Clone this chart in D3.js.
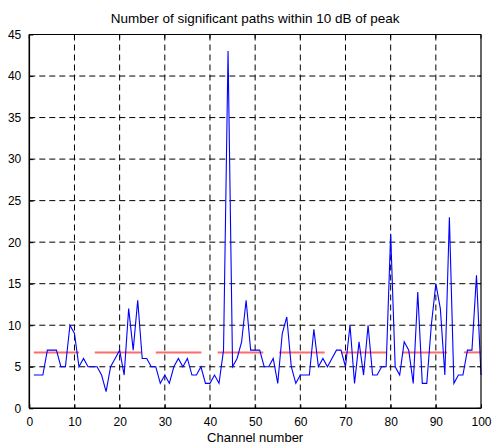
<!DOCTYPE html>
<html>
<head>
<meta charset="utf-8">
<script src="https://cdnjs.cloudflare.com/ajax/libs/d3/7.8.5/d3.min.js"></script>
<style>
  html, body { margin: 0; padding: 0; background: #fff; }
  svg { display: block; font-family: "Liberation Sans", Arial, sans-serif; }
</style>
</head>
<body>
<div id="chart"></div>
<script>
// channel numbers 1..100 and the path counts
var channels = d3.range(1, 101);
var paths = [4, 4, 4, 7, 7, 7, 5, 5, 10, 9,
             5, 6, 5, 5, 5, 4, 2, 5, 6, 7,
             4, 12, 7, 13, 6, 6, 5, 5, 3, 4,
             3, 5, 6, 5, 6, 4, 4, 5, 3, 3,
             4, 3, 7, 43, 5, 6, 8, 13, 7, 7,
             7, 5, 5, 6, 3, 9, 11, 5, 3, 4,
             4, 4, 9.5, 5, 6, 5, 6, 7, 7, 5,
             10, 3, 8, 4, 10, 4, 4, 5, 5, 21,
             5, 4, 8, 7, 3, 14, 3, 3, 10, 15,
             12, 4, 23, 3, 4, 4, 7, 7, 16, 4];

// red reference segments
var segStart = [1, 14.5, 28, 41.7, 55.3, 69, 82.5, 96.2];
var segEnd = [11, 24.8, 38.1, 51.8, 65.4, 79, 92.5, 100];
var segLevel = 6.73;

var xTicks = d3.range(0, 101, 10);
var yTicks = d3.range(0, 46, 5);
var titleText = "Number of significant paths within 10 dB of peak";
var xTitle = "Channel number";

var margin = {top: 34.5, right: 12, bottom: 37.7, left: 29.3},
    totalW = 493, totalH = 446,
    width = totalW - margin.left - margin.right,
    height = totalH - margin.top - margin.bottom;

var x = d3.scaleLinear().domain([0, 100]).range([0, width]);
var y = d3.scaleLinear().domain([0, 45]).range([height, 0]);

var svg = d3.select("#chart").append("svg")
    .attr("width", totalW)
    .attr("height", totalH);

var g = svg.append("g")
    .attr("transform", "translate(" + margin.left + "," + margin.top + ")");

// grid
g.append("g").selectAll("line")
    .data(xTicks.slice(1, -1))
    .enter().append("line")
    .attr("x1", d => x(d)).attr("x2", d => x(d))
    .attr("y1", 0).attr("y2", height)
    .attr("stroke", "#000")
    .attr("stroke-width", 1)
    .attr("stroke-dasharray", "6,4");

g.append("g").selectAll("line")
    .data(yTicks.slice(1, -1))
    .enter().append("line")
    .attr("y1", d => y(d)).attr("y2", d => y(d))
    .attr("x1", 0).attr("x2", width)
    .attr("stroke", "#000")
    .attr("stroke-width", 1)
    .attr("stroke-dasharray", "6,4");

// red segments
g.append("g").selectAll("line")
    .data(d3.zip(segStart, segEnd))
    .enter().append("line")
    .attr("x1", d => x(d[0])).attr("x2", d => x(d[1]))
    .attr("y1", y(segLevel)).attr("y2", y(segLevel))
    .attr("stroke", "#ff6a6a")
    .attr("stroke-width", 2);

// blue line
var line = d3.line()
    .x(d => x(d[0]))
    .y(d => y(d[1]));

g.append("path")
    .datum(d3.zip(channels, paths))
    .attr("fill", "none")
    .attr("stroke", "#0000ff")
    .attr("stroke-width", 1.1)
    .attr("stroke-linejoin", "miter")
    .attr("d", line);

// axes (MATLAB style, ticks inward)
var xAxis = d3.axisBottom(x).tickValues(xTicks).tickSize(-4).tickPadding(9);
var yAxis = d3.axisLeft(y).tickValues(yTicks).tickSize(-4).tickPadding(8);

var xa = g.append("g")
    .attr("transform", "translate(0," + height + ")")
    .call(xAxis);
var ya = g.append("g").call(yAxis);

[xa, ya].forEach(function(a) {
    a.select(".domain").remove();
    a.selectAll(".tick line").attr("stroke", "#000");
    a.selectAll("text")
        .attr("fill", "#000")
        .style("font-size", "12px")
        .style("font-family", "'Liberation Sans', Arial, sans-serif");
});

// ticks on top and right as well
g.append("g").selectAll("line")
    .data(xTicks)
    .enter().append("line")
    .attr("x1", d => x(d)).attr("x2", d => x(d))
    .attr("y1", 0).attr("y2", 4)
    .attr("stroke", "#000");
g.append("g").selectAll("line")
    .data(yTicks)
    .enter().append("line")
    .attr("y1", d => y(d)).attr("y2", d => y(d))
    .attr("x1", width).attr("x2", width - 4)
    .attr("stroke", "#000");

// box
g.append("line").attr("x1", 0).attr("x2", width).attr("y1", 0).attr("y2", 0)
    .attr("stroke", "#000").attr("stroke-width", 1.2);
g.append("line").attr("x1", width).attr("x2", width).attr("y1", 0).attr("y2", height)
    .attr("stroke", "#000").attr("stroke-width", 1.2);
g.append("line").attr("x1", 0).attr("x2", width).attr("y1", height).attr("y2", height)
    .attr("stroke", "#000").attr("stroke-width", 1.6);
g.append("line").attr("x1", 0).attr("x2", 0).attr("y1", 0).attr("y2", height)
    .attr("stroke", "#000").attr("stroke-width", 1.6);

// titles
svg.append("text")
    .attr("x", margin.left + width / 2)
    .attr("y", 23)
    .attr("text-anchor", "middle")
    .style("font-size", "13.5px")
    .text(titleText);

svg.append("text")
    .attr("x", margin.left + width / 2)
    .attr("y", 441.5)
    .attr("text-anchor", "middle")
    .style("font-size", "13px")
    .text(xTitle);
</script>
</body>
</html>
